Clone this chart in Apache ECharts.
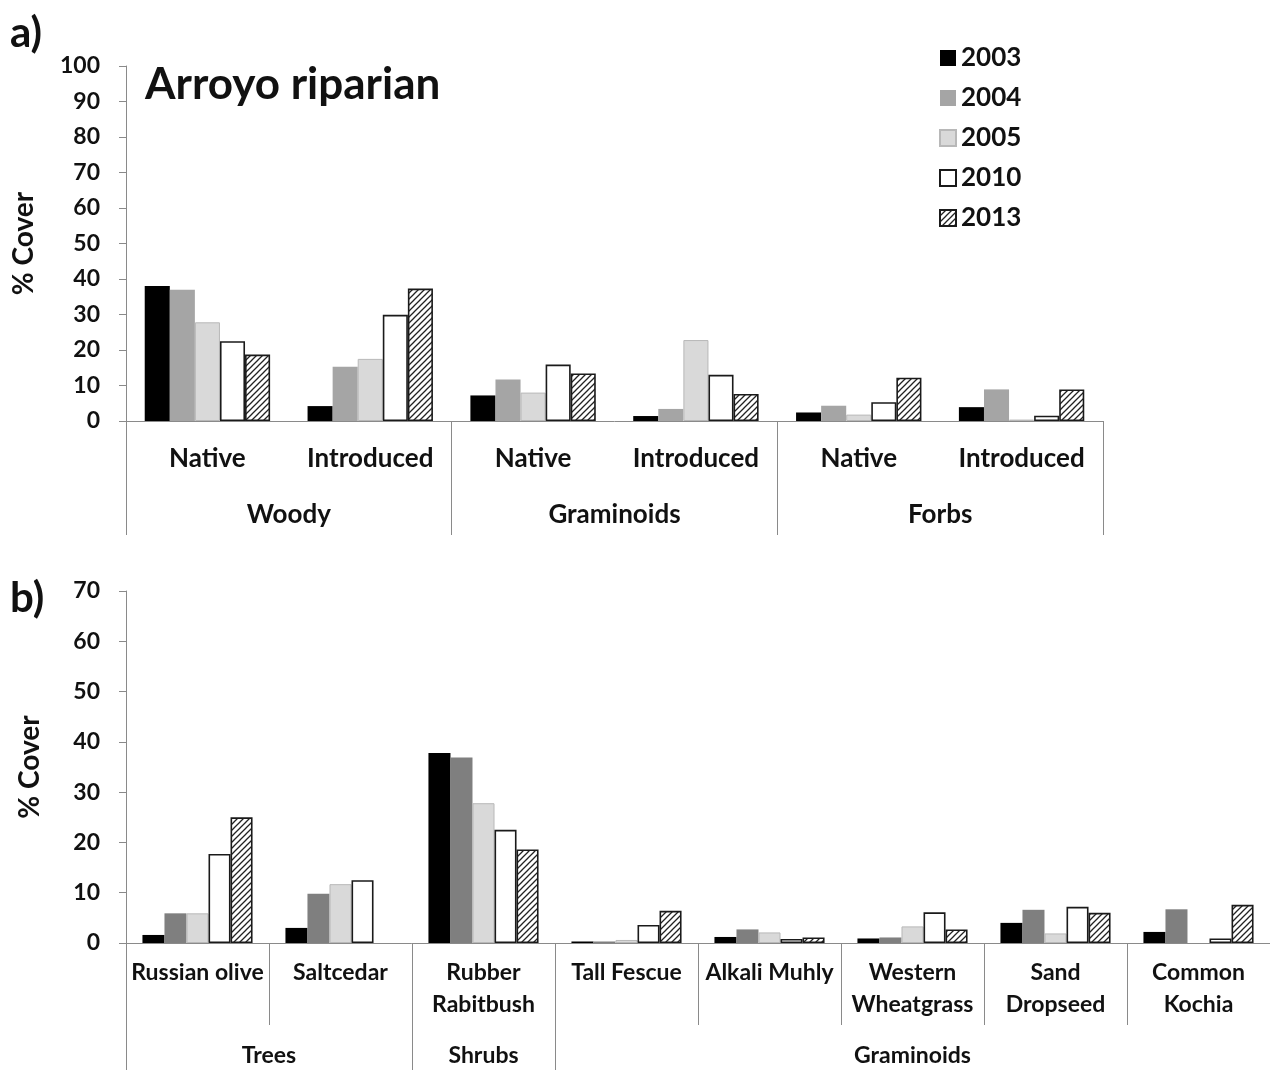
<!DOCTYPE html>
<html>
<head>
<meta charset="utf-8">
<script src="https://cdn.jsdelivr.net/npm/echarts@6/dist/echarts.min.js"></script>
<style>
  html, body { margin: 0; padding: 0; background: #fff; }
  #chart { width: 1270px; height: 1070px; }
</style>
</head>
<body>
<div id="chart"></div>
<script>
// Survey years (one series per year)
const years = ['2003', '2004', '2005', '2010', '2013'];

// Panel a: cover by origin within life-form groups
const catsA = ['Native', 'Introduced', 'Native', 'Introduced', 'Native', 'Introduced'];
const groupsA = ['Woody', 'Graminoids', 'Forbs'];
const groupSpansA = [2, 2, 2];
const a2003 = [38.0, 4.2, 7.2, 1.4, 2.4, 3.9];
const a2004 = [37.0, 15.3, 11.7, 3.4, 4.3, 8.9];
const a2005 = [27.8, 17.5, 8.0, 22.8, 1.8, 0.4];
const a2010 = [22.5, 29.9, 15.9, 13.0, 5.3, 1.5];
const a2013 = [18.7, 37.3, 13.4, 7.6, 12.2, 8.9];
const ticksA = [0, 10, 20, 30, 40, 50, 60, 70, 80, 90, 100];

// Panel b: cover of individual species (null = not recorded)
const catsB = ['Russian olive', 'Saltcedar', 'Rubber\nRabitbush', 'Tall Fescue', 'Alkali Muhly',
               'Western\nWheatgrass', 'Sand\nDropseed', 'Common\nKochia'];
const groupsB = ['Trees', 'Shrubs', 'Graminoids'];
const groupSpansB = [2, 1, 5];
const b2003 = [1.6, 3.0, 37.8, 0.3, 1.2, 0.9, 4.0, 2.2];
const b2004 = [5.9, 9.8, 36.9, 0.3, 2.7, 1.1, 6.6, 6.7];
const b2005 = [5.9, 11.7, 27.8, 0.6, 2.1, 3.3, 1.9, null];
const b2010 = [17.7, 12.5, 22.5, 3.6, 0.8, 6.1, 7.2, 0.9];
const b2013 = [25.0, null, 18.6, 6.4, 1.1, 2.7, 6.0, 7.6];
const ticksB = [0, 10, 20, 30, 40, 50, 60, 70];

const FONT = 'Lato';
const TXT = '#111';
const AXIS = '#8a8a8a';

// diagonal hatch fill for the 2013 bars
function makeHatch() {
  const s = 6;
  const c = document.createElement('canvas');
  c.width = s; c.height = s;
  const g = c.getContext('2d');
  g.fillStyle = '#fff';
  g.fillRect(0, 0, s, s);
  g.strokeStyle = '#222';
  g.lineWidth = 1.3;
  g.beginPath();
  g.moveTo(-1, s + 1); g.lineTo(s + 1, -1);
  g.moveTo(-1, 1); g.lineTo(1, -1);
  g.moveTo(s - 1, s + 1); g.lineTo(s + 1, s - 1);
  g.stroke();
  return c;
}
const hatch = { image: makeHatch(), repeat: 'repeat' };

function stylesFor(panel) {
  return [
    { color: '#000000' },
    { color: panel === 'a' ? '#a5a5a5' : '#7f7f7f' },
    { color: '#d9d9d9', borderColor: '#b8b8b8', borderWidth: 1 },
    { color: '#ffffff', borderColor: '#1a1a1a', borderWidth: 1.6 },
    { color: hatch, borderColor: '#1a1a1a', borderWidth: 1.6 }
  ];
}

// group boundaries and group centres on a 0..N value scale
function groupMarks(spans) {
  const bounds = [0], centres = [];
  let acc = 0;
  spans.forEach(s => { centres.push(acc + s / 2); acc += s; bounds.push(acc); });
  return { bounds, centres };
}
const gA = groupMarks(groupSpansA);
const gB = groupMarks(groupSpansB);

const chart = echarts.init(document.getElementById('chart'), null, { renderer: 'canvas' });

const yAxisCommon = {
  type: 'value',
  interval: 10,
  name: '% Cover',
  nameLocation: 'middle',
  nameRotate: 90,
  nameTextStyle: { fontFamily: FONT, fontWeight: 'bold', fontSize: 28, color: TXT },
  axisLine: { show: true, lineStyle: { color: AXIS, width: 1 } },
  axisTick: { show: true, inside: false, length: 7, lineStyle: { color: AXIS } },
  axisLabel: { fontFamily: FONT, fontWeight: 'bold', fontSize: 23, color: TXT, margin: 26 },
  splitLine: { show: false }
};

const seriesA = [a2003, a2004, a2005, a2010, a2013];
const seriesB = [b2003, b2004, b2005, b2010, b2013];
const series = [];
const stA = stylesFor('a'), stB = stylesFor('b');
years.forEach((y, i) => {
  series.push({
    name: y, type: 'bar', xAxisIndex: 0, yAxisIndex: 0,
    data: seriesA[i], barGap: '0%', barCategoryGap: '23%',
    itemStyle: stA[i], emphasis: { disabled: true }, animation: false
  });
});
years.forEach((y, i) => {
  series.push({
    name: y, type: 'bar', xAxisIndex: 2, yAxisIndex: 1,
    data: seriesB[i], barGap: '0%', barCategoryGap: '23%',
    itemStyle: stB[i], emphasis: { disabled: true }, animation: false
  });
});

const option = {
  backgroundColor: '#fff',
  animation: false,
  title: {
    text: 'Arroyo riparian',
    left: 140, top: 58,
    textStyle: { fontFamily: FONT, fontWeight: 'bold', fontSize: 44, color: TXT }
  },
  legend: {
    data: years,
    orient: 'vertical',
    left: 934, top: 40,
    icon: 'rect',
    itemWidth: 16, itemHeight: 16,
    itemGap: 14,
    textStyle: { fontFamily: FONT, fontWeight: 'bold', fontSize: 26, color: TXT, lineHeight: 26 }
  },
  graphic: [
    { type: 'text', left: 10, top: 12, style: { text: 'a)', fontFamily: FONT, fontWeight: 'bold', fontSize: 42, fill: TXT } },
    { type: 'text', left: 10, top: 577, style: { text: 'b)', fontFamily: FONT, fontWeight: 'bold', fontSize: 42, fill: TXT } }
  ],
  grid: [
    { left: 126, top: 66, width: 977, height: 355, containLabel: false },
    { left: 126, top: 591, width: 1144, height: 352, containLabel: false }
  ],
  xAxis: [
    {
      type: 'category', gridIndex: 0, data: catsA,
      axisLine: { show: true, lineStyle: { color: AXIS } },
      axisTick: { show: false },
      axisLabel: { interval: 0, fontFamily: FONT, fontWeight: 'bold', fontSize: 26, color: TXT, margin: 25 }
    },
    {
      type: 'value', gridIndex: 0, min: 0, max: catsA.length, position: 'bottom',
      axisLine: { show: false },
      splitLine: { show: false },
      axisTick: { show: true, inside: false, length: 114, customValues: gA.bounds, lineStyle: { color: AXIS } },
      axisLabel: {
        customValues: gA.centres, margin: 81,
        fontFamily: FONT, fontWeight: 'bold', fontSize: 26, color: TXT,
        formatter: v => groupsA[gA.centres.indexOf(v)] || ''
      }
    },
    {
      type: 'category', gridIndex: 1, data: catsB,
      axisLine: { show: true, lineStyle: { color: AXIS } },
      axisTick: { show: true, inside: false, length: 82, interval: 0, lineStyle: { color: AXIS } },
      axisLabel: { interval: 0, fontFamily: FONT, fontWeight: 'bold', fontSize: 23, lineHeight: 32, color: TXT, margin: 14 }
    },
    {
      type: 'value', gridIndex: 1, min: 0, max: catsB.length, position: 'bottom',
      axisLine: { show: false },
      splitLine: { show: false },
      axisTick: { show: true, inside: false, length: 140, customValues: gB.bounds, lineStyle: { color: AXIS } },
      axisLabel: {
        customValues: gB.centres, margin: 101,
        fontFamily: FONT, fontWeight: 'bold', fontSize: 23, color: TXT,
        formatter: v => groupsB[gB.centres.indexOf(v)] || ''
      }
    }
  ],
  yAxis: [
    Object.assign({}, yAxisCommon, { gridIndex: 0, min: ticksA[0], max: ticksA[ticksA.length - 1], nameGap: 88 }),
    Object.assign({}, yAxisCommon, { gridIndex: 1, min: ticksB[0], max: ticksB[ticksB.length - 1], nameGap: 82 })
  ],
  series: series
};

chart.setOption(option);
</script>
</body>
</html>
